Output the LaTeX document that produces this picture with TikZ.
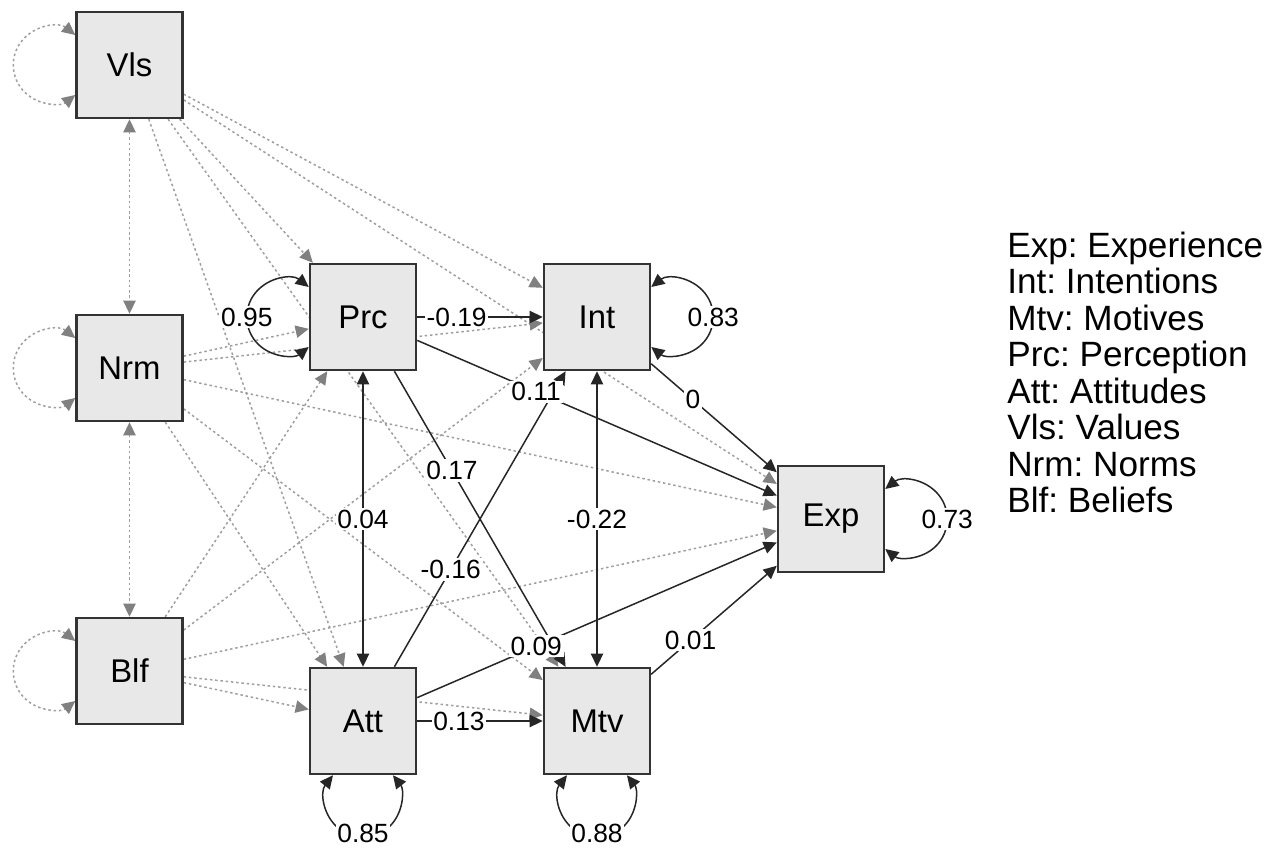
\documentclass[tikz,border=0pt]{standalone}
\usepackage{fontspec}
\setmainfont{Liberation Sans}
\frenchspacing
\usetikzlibrary{arrows.meta,calc,backgrounds}

\tikzset{
  mani/.style={draw=black!80, line width=1.4pt, fill=black!9, minimum size=2.12cm, inner sep=0pt, font=\fontsize{18.7}{20}\selectfont},
  regr/.style={draw=black!85, line width=0.85pt, ->},
  covar/.style={draw=black!85, line width=0.85pt, <->},
  exo/.style={draw=black!38, line width=0.85pt, dash pattern=on 1.4pt off 1.6pt, -{Triangle[length=7.5pt,width=7pt,black!50]}},
  exocov/.style={exo, {Triangle[length=7.5pt,width=7pt,black!50]}-{Triangle[length=7.5pt,width=7pt,black!50]}},
  coef/.style={fill=white, inner sep=1pt, font=\fontsize{15}{16}\selectfont},
  legend/.style={anchor=base west, inner sep=0pt, font=\fontsize{20}{21}\selectfont}
}

\begin{document}
\begin{tikzpicture}[x=0.02cm, y=-0.02cm, >={Triangle[length=7.5pt,width=7pt]}]
  \useasboundingbox (0,0) rectangle (1273,848);
  % variables
  \node[mani] (Vls) at (129.5,65) {Vls};
  \node[mani] (Nrm) at (129.5,368) {Nrm};
  \node[mani] (Blf) at (129.5,671) {Blf};
  \node[mani] (Prc) at (363,317) {Prc};
  \node[mani] (Int) at (597,317) {Int};
  \node[mani] (Att) at (363,721) {Att};
  \node[mani] (Mtv) at (597,721) {Mtv};
  \node[mani] (Exp) at (831,519) {Exp};

  \begin{scope}[on background layer]
    % exogenous paths
    \draw[exo] (Vls) -- (Prc);
    \draw[exo] (Vls) -- (Int);
    \draw[exo] (Vls) -- (Att);
    \draw[exo] (Vls) -- (Mtv);
    \draw[exo] (Vls) -- (Exp);
    \draw[exo] (Nrm) -- (Prc);
    \draw[exo] (Nrm) -- (Int);
    \draw[exo] (Nrm) -- (Att);
    \draw[exo] (Nrm) -- (Mtv);
    \draw[exo] (Nrm) -- (Exp);
    \draw[exo] (Blf) -- (Prc);
    \draw[exo] (Blf) -- (Int);
    \draw[exo] (Blf) -- (Att);
    \draw[exo] (Blf) -- (Mtv);
    \draw[exo] (Blf) -- (Exp);
    \draw[exocov] (Vls) -- (Nrm);
    \draw[exocov] (Nrm) -- (Blf);
    \draw[exocov] ([yshift=0.6cm]Vls.west) arc[start angle=51.6, end angle=308.4, radius=0.765cm];
    \draw[exocov] ([yshift=0.6cm]Nrm.west) arc[start angle=51.6, end angle=308.4, radius=0.765cm];
    \draw[exocov] ([yshift=0.6cm]Blf.west) arc[start angle=51.6, end angle=308.4, radius=0.765cm];
    % estimated paths
    \draw[regr] (Prc) -- (Int);
    \draw[regr] (Prc) -- (Exp);
    \draw[regr] (Prc) -- (Mtv);
    \draw[regr] (Int) -- (Exp);
    \draw[regr] (Att) -- (Int);
    \draw[regr] (Att) -- (Mtv);
    \draw[regr] (Att) -- (Exp);
    \draw[regr] (Mtv) -- (Exp);
    \draw[covar] (Prc) -- (Att);
    \draw[covar] (Int) -- (Mtv);
    % residual variances
    \draw[covar] ([yshift=0.6cm]Prc.west) arc[start angle=51.6, end angle=308.4, radius=0.765cm];
    \draw[covar] ([yshift=0.6cm]Int.east) arc[start angle=128.4, end angle=-128.4, radius=0.765cm];
    \draw[covar] ([yshift=0.6cm]Exp.east) arc[start angle=128.4, end angle=-128.4, radius=0.765cm];
    \draw[covar] ([xshift=-0.6cm]Att.south) arc[start angle=141.6, end angle=398.4, radius=0.765cm];
    \draw[covar] ([xshift=-0.6cm]Mtv.south) arc[start angle=141.6, end angle=398.4, radius=0.765cm];
  \end{scope}

  % estimates
  \node[coef] (cPI) at ($(Prc)!0.40!(Int)$) {-0.19};
  \node[coef] (cPE) at ($(Prc)!0.37!(Exp)$) {0.11};
  \node[coef] (cPM) at ($(Prc)!0.38!(Mtv)$) {0.17};
  \node[coef] (cIE) at ($(Int)!0.41!(Exp)$) {0};
  \node[coef] (cAI) at ($(Att)!0.375!(Int)$) {-0.16};
  \node[coef] (cAM) at ($(Att)!0.41!(Mtv)$) {0.13};
  \node[coef] (cAE) at ($(Att)!0.37!(Exp)$) {0.09};
  \node[coef] (cME) at ($(Mtv)!0.40!(Exp)$) {0.01};
  \node[coef] (cPA) at ($(Prc)!0.5!(Att)$) {0.04};
  \node[coef] (cIM) at ($(Int)!0.5!(Mtv)$) {-0.22};
  \node[coef] (vPrc) at ([xshift=-1.24cm]Prc.west) {0.95};
  \node[coef] (vInt) at ([xshift=1.24cm]Int.east) {0.83};
  \node[coef] (vExp) at ([xshift=1.24cm]Exp.east) {0.73};
  \node[coef] (vAtt) at ([yshift=-1.17cm]Att.south) {0.85};
  \node[coef] (vMtv) at ([yshift=-1.17cm]Mtv.south) {0.88};

  % legend
  \node[legend] (leg1) at (1007,257) {Exp: Experience};
  \node[legend] (leg2) at (1007,293.5) {Int: Intentions};
  \node[legend] (leg3) at (1007,330) {Mtv: Motives};
  \node[legend] (leg4) at (1007,366.5) {Prc: Perception};
  \node[legend] (leg5) at (1007,403) {Att: Attitudes};
  \node[legend] (leg6) at (1007,439.5) {Vls: Values};
  \node[legend] (leg7) at (1007,476) {Nrm: Norms};
  \node[legend] (leg8) at (1007,512.5) {Blf: Beliefs};
\end{tikzpicture}
\end{document}
